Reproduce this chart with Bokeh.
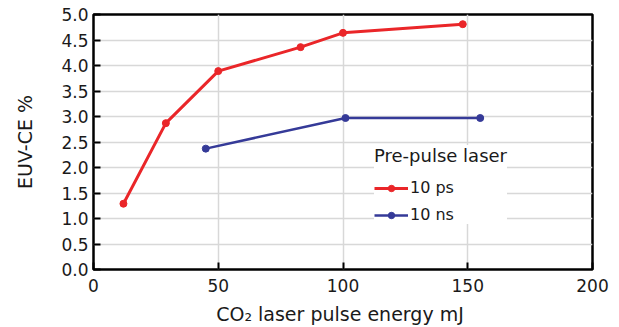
from bokeh.plotting import figure
from bokeh.models import Range1d, FixedTicker, Legend, LegendItem, CustomJSTickFormatter
from bokeh.embed import file_html
from bokeh.resources import INLINE

# Data
ps_energy = [12, 29, 50, 83, 100, 148]
ps_ce = [1.29, 2.87, 3.89, 4.36, 4.64, 4.81]
ns_energy = [45, 101, 155]
ns_ce = [2.37, 2.97, 2.97]
x_ticks = [0, 50, 100, 150, 200]
y_ticks = [0.0, 0.5, 1.0, 1.5, 2.0, 2.5, 3.0, 3.5, 4.0, 4.5, 5.0]

FONT = "DejaVu Sans"
RED = "#ea2629"
BLUE = "#353a98"
TXT = "#1a1a1a"

p = figure(width=619, height=327, output_backend="svg", toolbar_location=None,
           x_range=Range1d(0, 200), y_range=Range1d(0, 5.0),
           min_border_left=93, min_border_right=27, min_border_top=14, min_border_bottom=57)

p.outline_line_color = "black"
p.outline_line_width = 2.5
p.background_fill_color = "white"

# grids
p.xgrid.ticker = FixedTicker(ticks=[50, 100, 150])
p.ygrid.ticker = FixedTicker(ticks=y_ticks)
p.xgrid.grid_line_color = "#d8d8d8"
p.ygrid.grid_line_color = "#d8d8d8"
p.xgrid.grid_line_width = 1.5
p.ygrid.grid_line_width = 1.5

# axes
for ax in (p.xaxis[0], p.yaxis[0]):
    ax.axis_line_color = None
    ax.major_tick_in = 7
    ax.major_tick_out = 0
    ax.major_tick_line_color = "black"
    ax.major_tick_line_width = 2
    ax.minor_tick_line_color = None
    ax.major_label_text_font = FONT
    ax.major_label_text_font_size = "17px"
    ax.major_label_text_color = TXT
    ax.axis_label_text_font = FONT
    ax.axis_label_text_font_style = "normal"
    ax.axis_label_text_font_size = "19px"
    ax.axis_label_text_color = TXT

p.xaxis.ticker = FixedTicker(ticks=x_ticks)
p.yaxis.ticker = FixedTicker(ticks=y_ticks)
p.yaxis.formatter = CustomJSTickFormatter(code="return tick.toFixed(1);")
p.xaxis.major_label_standoff = 9
p.yaxis.major_label_standoff = 5
p.xaxis.axis_label = "CO\u2082 laser pulse energy  mJ"
p.yaxis.axis_label = "EUV-CE %"
p.xaxis.axis_label_standoff = 8
p.yaxis.axis_label_standoff = 22

l1 = p.line(ps_energy, ps_ce, line_color=RED, line_width=3)
s1 = p.scatter(ps_energy, ps_ce, marker="circle", size=7, color=RED)
l2 = p.line(ns_energy, ns_ce, line_color=BLUE, line_width=2.5)
s2 = p.scatter(ns_energy, ns_ce, marker="circle", size=7, color=BLUE)

legend = Legend(items=[LegendItem(label="10 ps", renderers=[l1, s1]),
                       LegendItem(label="10 ns", renderers=[l2, s2])],
                location=(281, 45), title="Pre-pulse laser")
legend.title_text_font = FONT
legend.title_text_font_style = "normal"
legend.title_text_font_size = "18px"
legend.title_text_color = TXT
legend.title_standoff = 12
legend.label_text_font = FONT
legend.label_text_font_size = "16px"
legend.label_text_color = TXT
legend.border_line_color = None
legend.background_fill_color = "white"
legend.background_fill_alpha = 1.0
legend.glyph_width = 34
legend.glyph_height = 16
legend.spacing = 8
legend.padding = 6
legend.label_standoff = 2
p.add_layout(legend, "center")

open("out.html", "w").write(file_html(p, INLINE))
